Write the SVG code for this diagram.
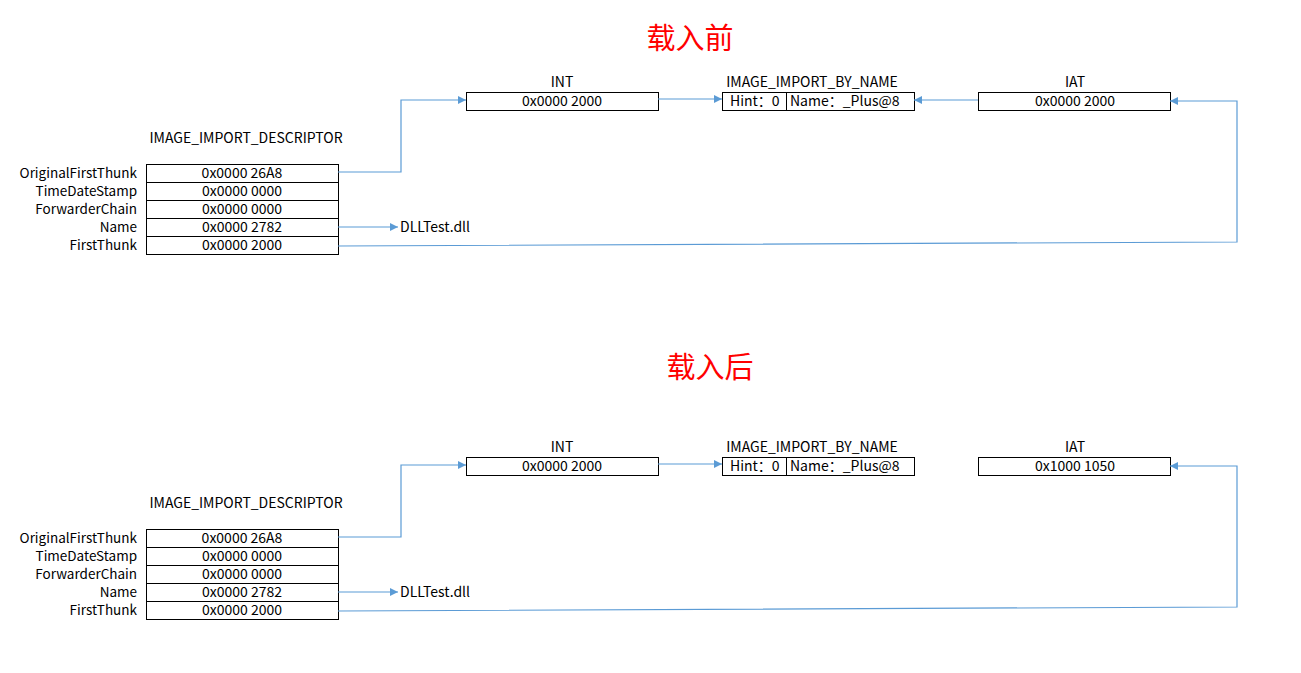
<svg xmlns="http://www.w3.org/2000/svg" width="1301" height="673" viewBox="0 0 1301 673">
<style>
text{font-family:"Noto Sans CJK SC","Noto Sans",sans-serif;font-size:14px;fill:#000}
.t{font-size:29px;fill:#f00;text-anchor:middle}
.c{text-anchor:middle}
.r{text-anchor:end}
.v{font-size:13.5px}
.box{fill:#fff;stroke:#000;stroke-width:1}
.ln{fill:none;stroke:#5B9BD5;stroke-width:1.2}
</style>
<defs>
<marker id="a" viewBox="0 0 10 10" refX="10" refY="5" markerWidth="8" markerHeight="8" markerUnits="userSpaceOnUse" orient="auto"><path d="M0,0L10,5L0,10z" fill="#5B9BD5"/></marker>
</defs>
<rect width="1301" height="673" fill="#fff"/>
<g id="before">
<text class="t" x="690" y="49">载入前</text>
<g id="desc1">
<text class="c" x="246" y="143">IMAGE_IMPORT_DESCRIPTOR</text>
<rect class="box" x="146.5" y="164.5" width="192" height="18"/>
<rect class="box" x="146.5" y="182.5" width="192" height="18"/>
<rect class="box" x="146.5" y="200.5" width="192" height="18"/>
<rect class="box" x="146.5" y="218.5" width="192" height="18"/>
<rect class="box" x="146.5" y="236.5" width="192" height="18"/>
<text class="r v" x="137" y="178">OriginalFirstThunk</text>
<text class="r v" x="137" y="196">TimeDateStamp</text>
<text class="r v" x="137" y="214">ForwarderChain</text>
<text class="r v" x="137" y="232">Name</text>
<text class="r v" x="137" y="250">FirstThunk</text>
<text class="c" x="242" y="178">0x0000 26A8</text>
<text class="c" x="242" y="196">0x0000 0000</text>
<text class="c" x="242" y="214">0x0000 0000</text>
<text class="c" x="242" y="232">0x0000 2782</text>
<text class="c" x="242" y="250">0x0000 2000</text>
</g>
<g id="int1">
<text class="c" x="562" y="87">INT</text>
<rect class="box" x="466.5" y="92.5" width="192" height="18"/>
<text class="c" x="562" y="106">0x0000 2000</text>
</g>
<g id="ibn1">
<text class="c" x="812" y="87">IMAGE_IMPORT_BY_NAME</text>
<rect class="box" x="722.5" y="92.5" width="192" height="18"/>
<line x1="786.5" y1="92.5" x2="786.5" y2="110.5" stroke="#000"/>
<text x="730" y="106">Hint：0</text>
<text x="790" y="106">Name：_Plus@8</text>
</g>
<g id="iat1">
<text class="c" x="1075" y="87">IAT</text>
<rect class="box" x="978.5" y="92.5" width="192" height="18"/>
<text class="c" x="1075" y="106">0x0000 2000</text>
</g>
<g id="dll1"><text x="400" y="232">DLLTest.dll</text></g>
<g id="conn1">
<polyline class="ln" points="338,172 401,172 401,100 466,100" marker-end="url(#a)"/>
<line class="ln" x1="658" y1="99" x2="722" y2="99" marker-end="url(#a)"/>
<line class="ln" x1="978" y1="100" x2="914" y2="100" marker-end="url(#a)"/>
<line class="ln" x1="338" y1="227" x2="398" y2="227" marker-end="url(#a)"/>
<polyline class="ln" points="338,246 1237,242 1237,101 1170,101" marker-end="url(#a)"/>
</g>
</g>
<g id="after">
<text class="t" x="710" y="378">载入后</text>
<g id="desc2">
<text class="c" x="246" y="508">IMAGE_IMPORT_DESCRIPTOR</text>
<rect class="box" x="146.5" y="529.5" width="192" height="18"/>
<rect class="box" x="146.5" y="547.5" width="192" height="18"/>
<rect class="box" x="146.5" y="565.5" width="192" height="18"/>
<rect class="box" x="146.5" y="583.5" width="192" height="18"/>
<rect class="box" x="146.5" y="601.5" width="192" height="18"/>
<text class="r v" x="137" y="543">OriginalFirstThunk</text>
<text class="r v" x="137" y="561">TimeDateStamp</text>
<text class="r v" x="137" y="579">ForwarderChain</text>
<text class="r v" x="137" y="597">Name</text>
<text class="r v" x="137" y="615">FirstThunk</text>
<text class="c" x="242" y="543">0x0000 26A8</text>
<text class="c" x="242" y="561">0x0000 0000</text>
<text class="c" x="242" y="579">0x0000 0000</text>
<text class="c" x="242" y="597">0x0000 2782</text>
<text class="c" x="242" y="615">0x0000 2000</text>
</g>
<g id="int2">
<text class="c" x="562" y="452">INT</text>
<rect class="box" x="466.5" y="457.5" width="192" height="18"/>
<text class="c" x="562" y="471">0x0000 2000</text>
</g>
<g id="ibn2">
<text class="c" x="812" y="452">IMAGE_IMPORT_BY_NAME</text>
<rect class="box" x="722.5" y="457.5" width="192" height="18"/>
<line x1="786.5" y1="457.5" x2="786.5" y2="475.5" stroke="#000"/>
<text x="730" y="471">Hint：0</text>
<text x="790" y="471">Name：_Plus@8</text>
</g>
<g id="iat2">
<text class="c" x="1075" y="452">IAT</text>
<rect class="box" x="978.5" y="457.5" width="192" height="18"/>
<text class="c" x="1075" y="471">0x1000 1050</text>
</g>
<g id="dll2"><text x="400" y="597">DLLTest.dll</text></g>
<g id="conn2">
<polyline class="ln" points="338,537 401,537 401,465 466,465" marker-end="url(#a)"/>
<line class="ln" x1="658" y1="464" x2="722" y2="464" marker-end="url(#a)"/>
<line class="ln" x1="338" y1="592" x2="398" y2="592" marker-end="url(#a)"/>
<polyline class="ln" points="338,611 1237,607 1237,466 1170,466" marker-end="url(#a)"/>
</g>
</g>
</svg>
